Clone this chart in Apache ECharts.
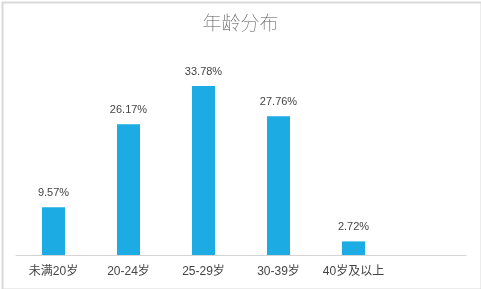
<!DOCTYPE html>
<html><head><meta charset="utf-8">
<script src="https://cdn.jsdelivr.net/npm/echarts@6/dist/echarts.min.js"></script>
<style>html,body{margin:0;padding:0;background:#fff}#c{width:481px;height:289px}</style>
</head><body><div id="c"></div>
<script>
const categories = ['未满20岁', '20-24岁', '25-29岁', '30-39岁', '40岁及以上', ''];
const values = [9.57, 26.17, 33.78, 27.76, 2.72];
const titleText = '年龄分布';

const chart = echarts.init(document.getElementById('c'));
chart.setOption({
  animation: false,
  backgroundColor: '#fff',
  title: {
    text: titleText, left: 'center', top: 8,
    textStyle: { fontSize: 19, fontWeight: 'lighter', color: '#555', fontFamily: 'Noto Sans CJK SC' }
  },
  graphic: [{
    type: 'rect', left: 0, top: 0, z: -1,
    shape: { x: 0, y: 0, width: 479, height: 287 },
    style: { fill: 'none', stroke: '#d9d9d9', lineWidth: 2 }
  }],
  grid: { left: 16, right: 15, top: 55, bottom: 34 },
  xAxis: {
    type: 'category', data: categories,
    axisLine: { lineStyle: { color: '#d4d4d4' } },
    axisTick: { show: false },
    axisLabel: { color: '#444', fontSize: 12, fontFamily: 'Liberation Sans, Noto Sans CJK SC', margin: 11, interval: 0 }
  },
  yAxis: { type: 'value', min: 0, max: 40, show: false, splitLine: { show: false } },
  series: [{
    type: 'bar', data: values, barWidth: 23,
    itemStyle: { color: '#1cabe2' },
    label: {
      show: true, position: 'top', distance: 9, color: '#444', fontSize: 11,
      fontFamily: 'Liberation Sans', formatter: p => p.value.toFixed(2) + '%'
    }
  }]
});
</script></body></html>
